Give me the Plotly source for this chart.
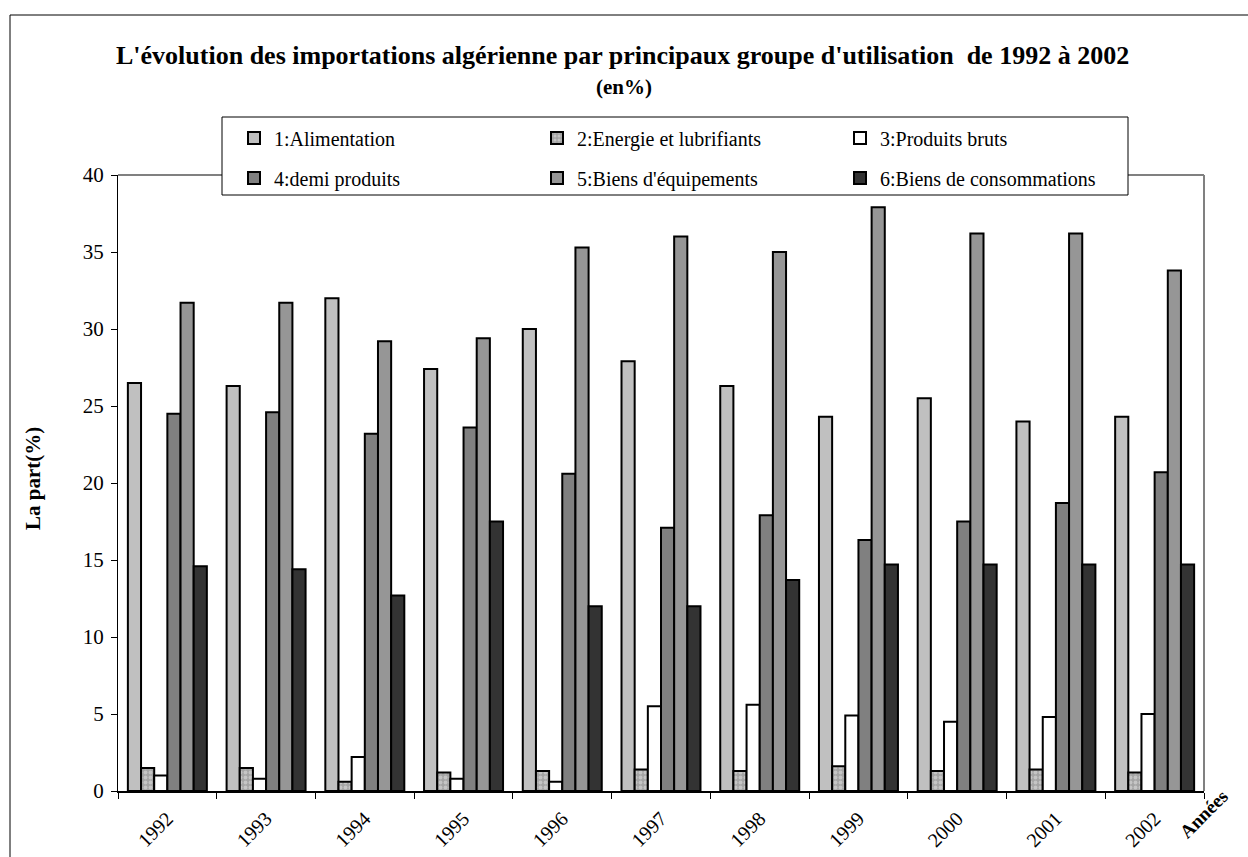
import plotly.graph_objects as go

years = ["1992", "1993", "1994", "1995", "1996", "1997", "1998", "1999", "2000", "2001", "2002"]
alimentation = [26.5, 26.3, 32.0, 27.4, 30.0, 27.9, 26.3, 24.3, 25.5, 24.0, 24.3]
energie = [1.5, 1.5, 0.6, 1.2, 1.3, 1.4, 1.3, 1.6, 1.3, 1.4, 1.2]
produits_bruts = [1.0, 0.8, 2.2, 0.8, 0.6, 5.5, 5.6, 4.9, 4.5, 4.8, 5.0]
demi_produits = [24.5, 24.6, 23.2, 23.6, 20.6, 17.1, 17.9, 16.3, 17.5, 18.7, 20.7]
biens_equipements = [31.7, 31.7, 29.2, 29.4, 35.3, 36.0, 35.0, 37.9, 36.2, 36.2, 33.8]
biens_consommation = [14.6, 14.4, 12.7, 17.5, 12.0, 12.0, 13.7, 14.7, 14.7, 14.7, 14.7]

names = ["1:Alimentation", "2:Energie et lubrifiants", "3:Produits bruts",
         "4:demi produits", "5:Biens d'équipements", "6:Biens de consommations"]
series = [alimentation, energie, produits_bruts, demi_produits, biens_equipements, biens_consommation]
colors = ["#c0c0c0", "#b0b0b0", "#ffffff", "#808080", "#969696", "#333333"]
legends = ["legend", "legend", "legend", "legend2", "legend2", "legend2"]

FONT = "Liberation Serif"

fig = go.Figure()
for i, (n, v, c, lg) in enumerate(zip(names, series, colors, legends)):
    marker = dict(color=c, line=dict(color="black", width=2))
    if i == 1:
        marker["pattern"] = dict(shape=".", fgcolor="#e6e6e6", bgcolor="#a4a4a4", size=5, solidity=0.45)
    fig.add_trace(go.Bar(x=years, y=v, name=n, marker=marker, legend=lg))

# pixel -> paper helpers (plot area 118..1204 x, 175..791 y)
L, R, T, B = 118, 1204, 175, 791
def px(x):
    return (x - L) / (R - L)
def py(y):
    return (B - y) / (B - T)

leg_common = dict(orientation="h", xanchor="left", yanchor="middle",
                  entrywidth=258, entrywidthmode="pixels", bgcolor="rgba(0,0,0,0)",
                  font=dict(family=FONT, size=20, color="black"))

fig.update_layout(
    width=1248, height=857,
    margin=dict(l=L, r=1248 - R, t=T, b=857 - B, pad=0, autoexpand=False),
    paper_bgcolor="white", plot_bgcolor="white",
    barmode="group", bargap=0.2, bargroupgap=0,
    font=dict(family=FONT, color="black", size=18),
    showlegend=True,
    legend=dict(x=px(234), y=py(138), **leg_common),
    legend2=dict(x=px(234), y=py(178), **leg_common),
    xaxis=dict(type="category", tickson="boundaries", ticks="outside", ticklen=6,
               tickcolor="black", tickwidth=1, showline=True, linecolor="black", linewidth=2,
               tickangle=-45, tickfont=dict(family=FONT, size=20, color="black"),
               ticklabelstandoff=6, showgrid=False, zeroline=False, automargin=False),
    yaxis=dict(range=[0, 40], dtick=5, ticks="outside", ticklen=6, tickcolor="black",
               showline=True, linecolor="black", linewidth=1, showgrid=False, zeroline=False,
               ticklabelstandoff=3, automargin=False,
               tickfont=dict(family=FONT, size=21, color="black")),
    shapes=[
        # outer frame
        dict(type="rect", xref="paper", yref="paper", x0=px(10), x1=px(1260), y0=py(870), y1=py(15),
             line=dict(color="black", width=1), layer="below"),
        # gray top and right plot border
        dict(type="line", xref="paper", yref="paper", x0=0, x1=1, y0=1, y1=1,
             line=dict(color="#808080", width=2), layer="above"),
        dict(type="line", xref="paper", yref="paper", x0=1, x1=1, y0=0, y1=1,
             line=dict(color="#808080", width=2), layer="above"),
        # legend box
        dict(type="rect", xref="paper", yref="paper", x0=px(222), x1=px(1128), y0=py(195), y1=py(117),
             line=dict(color="black", width=1), fillcolor="white", layer="above"),
    ],
    annotations=[
        dict(text="<b>L'évolution des importations algérienne par principaux groupe d'utilisation  de 1992 à 2002</b>",
             xref="paper", yref="paper", x=px(622), y=py(55), xanchor="center", yanchor="middle",
             showarrow=False, font=dict(family=FONT, size=26, color="black")),
        dict(text="<b>(en%)</b>", xref="paper", yref="paper", x=px(624), y=py(87),
             xanchor="center", yanchor="middle", showarrow=False,
             font=dict(family=FONT, size=21, color="black")),
        dict(text="<b>La part(%)</b>", xref="paper", yref="paper", x=px(33), y=py(479),
             xanchor="center", yanchor="middle", textangle=-90, showarrow=False,
             font=dict(family=FONT, size=21, color="black")),
        dict(text="<b>Années</b>", xref="paper", yref="paper", x=px(1203), y=py(814),
             xanchor="center", yanchor="middle", textangle=-45, showarrow=False,
             font=dict(family=FONT, size=19, color="black")),
    ],
)

fig.write_html("out.html")
